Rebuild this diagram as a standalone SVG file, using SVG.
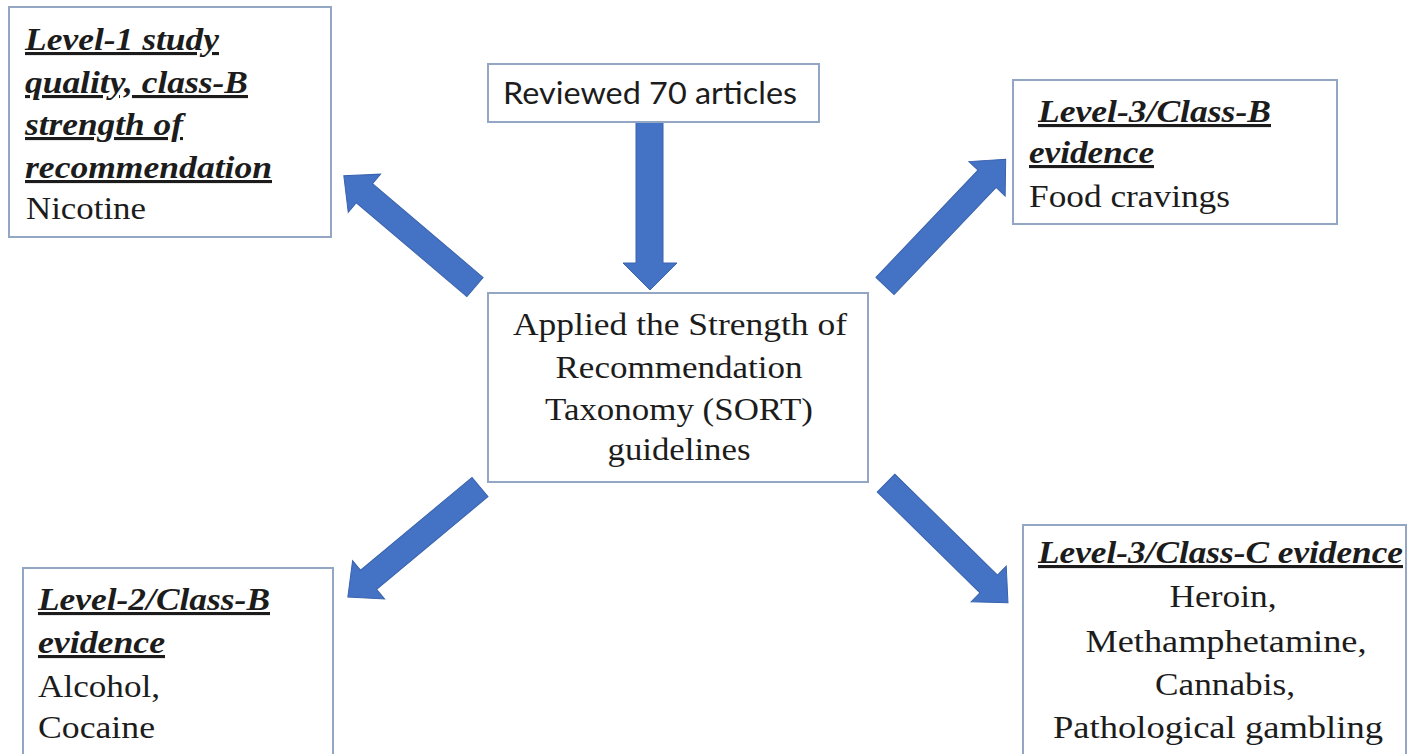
<svg xmlns="http://www.w3.org/2000/svg" width="1408" height="754" viewBox="0 0 1408 754">
<defs>
<style>
.box{fill:#ffffff;stroke:#93a6c4;stroke-width:2}
.t{font-family:"Liberation Serif","Times New Roman",serif;font-size:31px;fill:#1c1c1c}
.h{font-family:"Liberation Serif","Times New Roman",serif;font-size:31px;font-weight:bold;font-style:italic;fill:#1c1c1c;text-decoration:underline;text-decoration-thickness:3px;text-decoration-skip-ink:none;text-underline-offset:4px}
.s{font-family:Lato,"Liberation Sans",sans-serif;font-size:30px;fill:#1c1c1c}
.arr{fill:#4472c4;stroke:#3a63ad;stroke-width:1}
.m{text-anchor:middle}
</style>
</defs>
<rect width="1408" height="754" fill="#ffffff"/>

<g id="connectors">
  <polygon class="arr" points="636,122 663,122 663,263 677,263 650,290 623,263 636,263"/>
  <polygon class="arr" transform="translate(475,287) rotate(-139.7)" points="0,-12.5 145,-12.5 145,-25 172,0 145,25 145,12.5 0,12.5"/>
  <polygon class="arr" transform="translate(885,286) rotate(-46.4)" points="0,-12.5 148,-12.5 148,-25 175,0 148,25 148,12.5 0,12.5"/>
  <polygon class="arr" transform="translate(480,487) rotate(140.2)" points="0,-12.5 145,-12.5 145,-25 172,0 145,25 145,12.5 0,12.5"/>
  <polygon class="arr" transform="translate(886,483) rotate(44.5)" points="0,-12.5 144,-12.5 144,-25 171,0 144,25 144,12.5 0,12.5"/>
</g>

<g id="node-level1">
  <rect class="box" x="9" y="7" width="322" height="230"/>
  <text class="h" x="25" y="50" textLength="194" lengthAdjust="spacingAndGlyphs">Level-1 study</text>
  <text class="h" x="25" y="93" textLength="223" lengthAdjust="spacingAndGlyphs">quality, class-B</text>
  <text class="h" x="25" y="135" textLength="158" lengthAdjust="spacingAndGlyphs">strength of</text>
  <text class="h" x="25" y="178" textLength="247" lengthAdjust="spacingAndGlyphs">recommendation</text>
  <text class="t" x="26" y="219" textLength="120" lengthAdjust="spacingAndGlyphs">Nicotine</text>
</g>

<g id="node-reviewed">
  <rect class="box" x="488" y="64" width="331" height="58"/>
  <text class="s" x="503" y="104" textLength="294" lengthAdjust="spacingAndGlyphs">Reviewed 70 articles</text>
</g>

<g id="node-sort">
  <rect class="box" x="488" y="293" width="380" height="189"/>
  <text class="t m" x="680" y="335" textLength="334" lengthAdjust="spacingAndGlyphs">Applied the Strength of</text>
  <text class="t m" x="679" y="378" textLength="247" lengthAdjust="spacingAndGlyphs">Recommendation</text>
  <text class="t m" x="679" y="420" textLength="268" lengthAdjust="spacingAndGlyphs">Taxonomy (SORT)</text>
  <text class="t m" x="679" y="460" textLength="143" lengthAdjust="spacingAndGlyphs">guidelines</text>
</g>

<g id="node-level3b">
  <rect class="box" x="1013" y="80" width="324" height="144"/>
  <text class="h" x="1038" y="122" textLength="233" lengthAdjust="spacingAndGlyphs">Level-3/Class-B</text>
  <text class="h" x="1029" y="163" textLength="125" lengthAdjust="spacingAndGlyphs">evidence</text>
  <text class="t" x="1029" y="207" textLength="201" lengthAdjust="spacingAndGlyphs">Food cravings</text>
</g>

<g id="node-level2">
  <rect class="box" x="23" y="568" width="310" height="200"/>
  <text class="h" x="38" y="610" textLength="232" lengthAdjust="spacingAndGlyphs">Level-2/Class-B</text>
  <text class="h" x="38" y="653" textLength="127" lengthAdjust="spacingAndGlyphs">evidence</text>
  <text class="t" x="38" y="697" textLength="122" lengthAdjust="spacingAndGlyphs">Alcohol,</text>
  <text class="t" x="38" y="738" textLength="117" lengthAdjust="spacingAndGlyphs">Cocaine</text>
</g>

<g id="node-level3c">
  <rect class="box" x="1023" y="525" width="383" height="250"/>
  <text class="h" x="1038" y="563" textLength="365" lengthAdjust="spacingAndGlyphs">Level-3/Class-C evidence</text>
  <text class="t m" x="1223" y="607" textLength="107" lengthAdjust="spacingAndGlyphs">Heroin,</text>
  <text class="t m" x="1226" y="652" textLength="281" lengthAdjust="spacingAndGlyphs">Methamphetamine,</text>
  <text class="t m" x="1225" y="695" textLength="140" lengthAdjust="spacingAndGlyphs">Cannabis,</text>
  <text class="t m" x="1218" y="738" textLength="330" lengthAdjust="spacingAndGlyphs">Pathological gambling</text>
</g>
</svg>
